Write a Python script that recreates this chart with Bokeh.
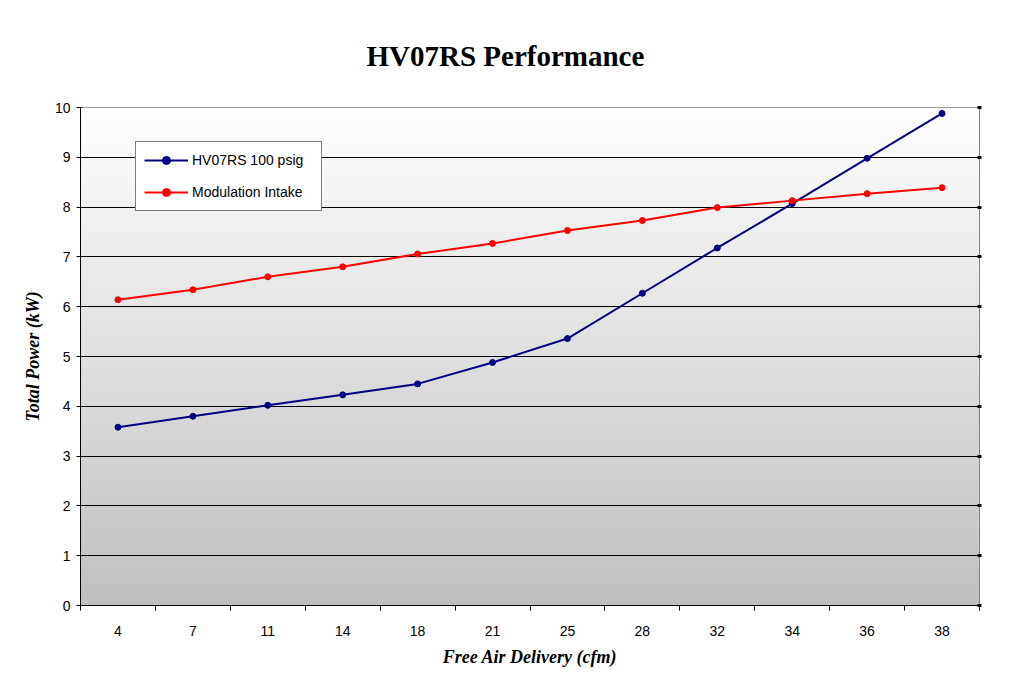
import numpy as np
from bokeh.plotting import figure
from bokeh.models import Range1d, FixedTicker, LinearAxis, Legend, LegendItem
from bokeh.embed import file_html
from bokeh.resources import INLINE

# ---- data ----
title_text = "HV07RS Performance"
cfm = ["4", "7", "11", "14", "18", "21", "25", "28", "32", "34", "36", "38"]
hv07rs_100psig = [3.58, 3.80, 4.02, 4.23, 4.45, 4.88, 5.36, 6.27, 7.18, 8.07, 8.98, 9.88]
modulation_intake = [6.14, 6.34, 6.60, 6.80, 7.06, 7.27, 7.53, 7.73, 7.99, 8.13, 8.27, 8.39]
y_ticks = [0, 1, 2, 3, 4, 5, 6, 7, 8, 9, 10]

n = len(cfm)
x = [i + 0.5 for i in range(n)]

p = figure(width=1010, height=688,
           x_range=Range1d(0, n), y_range=Range1d(0, 10),
           output_backend="svg", toolbar_location=None,
           min_border_left=80, min_border_right=31,
           min_border_top=107, min_border_bottom=83,
           background_fill_color="white", border_fill_color="white")

# title
p.title.text = title_text
p.title.text_font = "Liberation Serif"
p.title.text_font_size = "29px"
p.title.text_font_style = "bold"
p.title.text_color = "black"
p.title.align = "left"
p.title.offset = 286
p.title.standoff = 72

# gradient plot-area background (white at top -> grey at bottom)
N = 256
img = np.empty((N, 1), dtype=np.uint32)
view = img.view(dtype=np.uint8).reshape((N, 1, 4))
shade = np.linspace(192, 255, N).astype(np.uint8)
view[:, 0, 0] = shade
view[:, 0, 1] = shade
view[:, 0, 2] = shade
view[:, 0, 3] = 255
p.image_rgba(image=[img], x=0, y=0, dw=n, dh=10, level="image")

p.outline_line_color = "#808080"
p.outline_line_width = 1

# grid
p.xgrid.grid_line_color = None
p.ygrid.ticker = FixedTicker(ticks=y_ticks[1:-1])
p.ygrid.grid_line_color = "black"
p.ygrid.grid_line_width = 1

# x axis: labels at category centres, ticks at category boundaries
xa = p.below[0]
xa.ticker = FixedTicker(ticks=x, minor_ticks=list(range(n + 1)))
xa.major_label_overrides = {xv: lab for xv, lab in zip(x, cfm)}
xa.major_tick_out = 0
xa.major_tick_in = 0
xa.minor_tick_out = 5
xa.minor_tick_in = 0
xa.minor_tick_line_color = "black"
xa.axis_line_color = "black"
xa.major_label_standoff = 15
xa.major_label_text_font = "Liberation Sans"
xa.major_label_text_font_size = "14px"
xa.major_label_text_color = "black"
xa.axis_label = "Free Air Delivery (cfm)"
xa.axis_label_text_font = "Liberation Serif"
xa.axis_label_text_font_size = "18px"
xa.axis_label_text_font_style = "bold italic"
xa.axis_label_text_color = "black"
xa.axis_label_standoff = 8

# y axis
ya = p.left[0]
ya.ticker = FixedTicker(ticks=y_ticks)
ya.major_tick_out = 4
ya.major_tick_in = 2
ya.minor_tick_line_color = None
ya.major_tick_line_color = "black"
ya.axis_line_color = "black"
ya.major_label_standoff = 6
ya.major_label_text_font = "Liberation Sans"
ya.major_label_text_font_size = "14px"
ya.major_label_text_color = "black"
ya.axis_label = "Total Power (kW)"
ya.axis_label_text_font = "Liberation Serif"
ya.axis_label_text_font_size = "18px"
ya.axis_label_text_font_style = "bold italic"
ya.axis_label_text_color = "black"
ya.axis_label_standoff = 9

# right axis with tick marks only
ra = LinearAxis(ticker=FixedTicker(ticks=y_ticks))
ra.major_label_overrides = {t: "" for t in y_ticks}
ra.major_label_standoff = 0
ra.major_tick_in = 2
ra.major_tick_out = 2
ra.major_tick_line_width = 3
ra.major_tick_line_color = "black"
ra.minor_tick_line_color = None
ra.axis_line_color = "#808080"
p.add_layout(ra, "right")

# series
l1 = p.line(x, hv07rs_100psig, line_color="#000080", line_width=2)
c1 = p.scatter(x, hv07rs_100psig, marker="circle", size=6,
               fill_color="#000080", line_color="#000080")
l2 = p.line(x, modulation_intake, line_color="#ff0000", line_width=2)
c2 = p.scatter(x, modulation_intake, marker="circle", size=6,
               fill_color="#ff0000", line_color="#ff0000")

legend = Legend(items=[
    LegendItem(label="HV07RS 100 psig", renderers=[l1, c1]),
    LegendItem(label="Modulation Intake", renderers=[l2, c2]),
], location=(55, 394))
legend.border_line_color = "black"
legend.border_line_width = 1
legend.background_fill_color = "white"
legend.background_fill_alpha = 1
legend.label_text_font = "Liberation Sans"
legend.label_text_font_size = "14px"
legend.label_text_color = "black"
legend.padding = 8
legend.glyph_width = 44
legend.label_standoff = 4
legend.spacing = 12
legend.label_height = 20
legend.glyph_height = 20
legend.label_width = 121
legend.margin = 0
p.add_layout(legend)

open("out.html", "w").write(file_html(p, INLINE))
